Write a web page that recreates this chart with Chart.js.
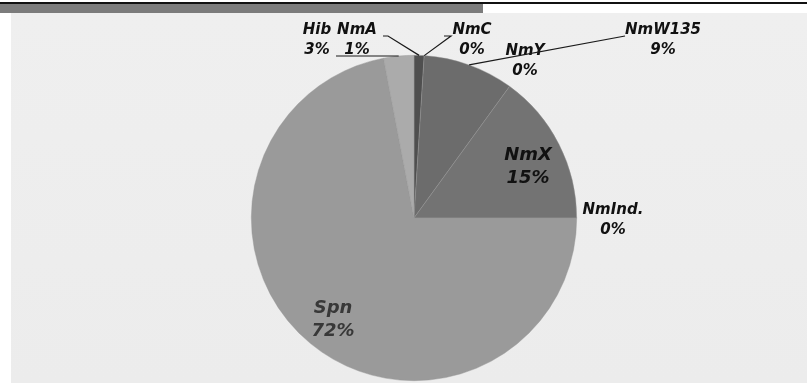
<!DOCTYPE html>
<html>
<head>
<meta charset="utf-8">
<script src="https://cdn.jsdelivr.net/npm/chart.js@4/dist/chart.umd.min.js"></script>
<style>
  html, body { margin: 0; padding: 0; background: #fff; }
  #wrap { position: relative; width: 807px; height: 383px; }
</style>
</head>
<body>
<div id="wrap"><canvas id="pie" width="807" height="383"></canvas></div>
<script>
// Share of cases by pathogen, clockwise from 12 o'clock.
var categories = ['NmA', 'NmC', 'NmY', 'NmW135', 'NmX', 'NmInd.', 'Spn', 'Hib'];
var shares = [1, 0, 0, 9, 15, 0, 72, 3];
var sliceColors = ['#4f4f4f', '#5a5a5a', '#626262', '#6c6c6c', '#737373', '#8a8a8a', '#9a9a9a', '#ababab'];

// Where each two-line label sits, relative to the pie centre, plus the
// bend points of its leader line (null = no leader).
var labelSpots = [
  { dx: -57, dy: -188, leader: [[-26, -182], [-31, -182]] },
  { dx: 58, dy: -188, leader: [[37, -182], [30, -182]] },
  { dx: 111, dy: -167, leader: null },
  { dx: 249, dy: -188, leader: [[211, -182]] },
  { dx: 114, dy: -63, inside: true, leader: null },
  { dx: 199, dy: -8, leader: null },
  { dx: -81, dy: 90, inside: true, color: '#383838', leader: null },
  { dx: -97, dy: -188, leader: [[-78, -162]] }
];

var pagePlugin = {
  id: 'page',
  beforeDraw: function(chart) {
    var c = chart.ctx;
    c.save();
    c.fillStyle = '#ffffff';
    c.fillRect(0, 0, chart.width, chart.height);
    // light panel behind the pie
    var g = c.createLinearGradient(0, 13, 0, chart.height);
    g.addColorStop(0, '#efefef');
    g.addColorStop(1, '#ececec');
    c.fillStyle = g;
    c.fillRect(11, 13, chart.width - 11, chart.height - 13);
    // header bar and rule
    c.fillStyle = '#7c7c7c';
    c.fillRect(0, 4, 483, 9);
    c.fillStyle = '#111';
    c.fillRect(0, 2, chart.width, 2);
    c.restore();
  }
};

var labelPlugin = {
  id: 'sliceLabels',
  afterDatasetsDraw: function(chart) {
    var c = chart.ctx;
    var meta = chart.getDatasetMeta(0);
    var data = chart.data.datasets[0].data;
    var total = data.reduce(function(a, b) { return a + b; }, 0);
    c.save();
    meta.data.forEach(function(arc, i) {
      var p = arc.getProps(['x', 'y', 'startAngle', 'endAngle', 'outerRadius'], true);
      var spot = labelSpots[i];
      var mid = (p.startAngle + p.endAngle) / 2;
      if (spot.leader) {
        c.beginPath();
        c.moveTo(p.x + Math.cos(mid) * p.outerRadius, p.y + Math.sin(mid) * p.outerRadius);
        spot.leader.forEach(function(pt) { c.lineTo(p.x + pt[0], p.y + pt[1]); });
        c.strokeStyle = '#1a1a1a';
        c.lineWidth = 1.2;
        c.stroke();
      }
      var size = spot.inside ? 18 : 15;
      var gap = spot.inside ? 23 : 20;
      c.font = 'italic bold ' + size + 'px "DejaVu Sans", Verdana, sans-serif';
      c.fillStyle = spot.color || '#111';
      c.textAlign = 'center';
      c.textBaseline = 'middle';
      var pct = Math.round(data[i] / total * 100) + '%';
      c.fillText(chart.data.labels[i], p.x + spot.dx, p.y + spot.dy);
      c.fillText(pct, p.x + spot.dx, p.y + spot.dy + gap);
    });
    c.restore();
  }
};

new Chart(document.getElementById('pie'), {
  type: 'pie',
  data: {
    labels: categories,
    datasets: [{
      data: shares,
      backgroundColor: sliceColors,
      borderColor: 'rgba(150,150,150,0.7)',
      borderWidth: 0.6
    }]
  },
  options: {
    responsive: false,
    animation: false,
    layout: { padding: { left: 21, right: 0, top: 55, bottom: 2 } },
    plugins: { legend: { display: false }, tooltip: { enabled: false } }
  },
  plugins: [pagePlugin, labelPlugin]
});
</script>
</body>
</html>
